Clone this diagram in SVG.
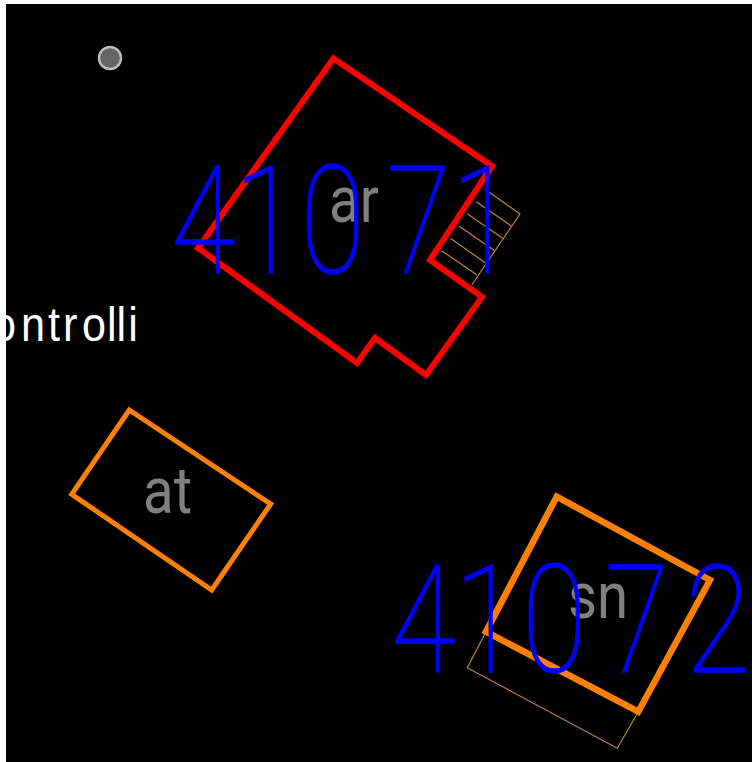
<svg xmlns="http://www.w3.org/2000/svg" width="752" height="762" viewBox="0 0 752 762">
<style>
.lbl{font-family:"Roboto","Liberation Sans",sans-serif;font-weight:400;fill:#808080;font-size:64px}
.num{font-family:"Roboto","Liberation Sans",sans-serif;font-weight:100;fill:#0000ff;stroke:#0000ff;stroke-width:1.4;font-size:151px}
.red{fill:none;stroke:#ff0000;stroke-width:6;stroke-linejoin:miter}
.org{fill:none;stroke:#ff8000;stroke-linejoin:miter}
.tan{fill:none;stroke:#b8843f;stroke-width:1.2}
</style>
<rect x="0" y="0" width="752" height="762" fill="#000000"/>
<g id="stairs" class="tan">
<path d="M485 189.3L520 214L471.7 285"/>
<path d="M476.3 201.7L511.3 226M467.7 214L502.7 238.3M459 226L494 250.3M450.3 238.3L485.3 262.7M441.7 250.7L476.7 274.7"/>
</g>
<g id="annex" class="tan"><path d="M486 631.7L467.3 667.7L617.3 748.3L638.3 711.7"/></g>
<g id="marker"><circle cx="110" cy="58" r="11" fill="#666666" stroke="#bbbbbb" stroke-width="2.5"/></g>
<g id="building-ar">
<polygon class="red" points="333.5,58.5 492,166 430,260 482,297 426,375 375,338 357,363 198,248"/>
<text class="lbl" transform="translate(329,222) scale(.88,1)">ar</text>
</g>
<g id="building-at">
<polygon class="org" stroke-width="5" points="129.3,410 270.7,504 211.7,590 71.7,494.3"/>
<text class="lbl" transform="translate(143,513) scale(.88,1)">at</text>
</g>
<g id="building-sn">
<polygon class="org" stroke-width="6.5" points="556.7,496.7 710,580 638.3,711.7 486,631.7"/>
<text class="lbl" transform="translate(568,618) scale(.88,1)">sn</text>
</g>
<g id="num-41071">
<text class="num" transform="translate(171,273) scale(.78,1)" x="0 81 166 276 359">41071</text>
</g>
<g id="num-41072">
<text class="num" transform="translate(391,672) scale(.78,1)" x="0 81 168 274 378">41072</text>
</g>
<g id="label-controlli">
<text transform="translate(0,341) scale(.9,1)" x="-8.9 23.3 53.3 70 91 119 129.5 142.5" font-family="'Liberation Sans',sans-serif" font-size="48" fill="#ffffff">ontrolli</text>
</g>
<rect x="0" y="0" width="6" height="762" fill="#ffffff"/>
<rect x="0" y="0" width="752" height="4" fill="#ffffff"/>
</svg>
